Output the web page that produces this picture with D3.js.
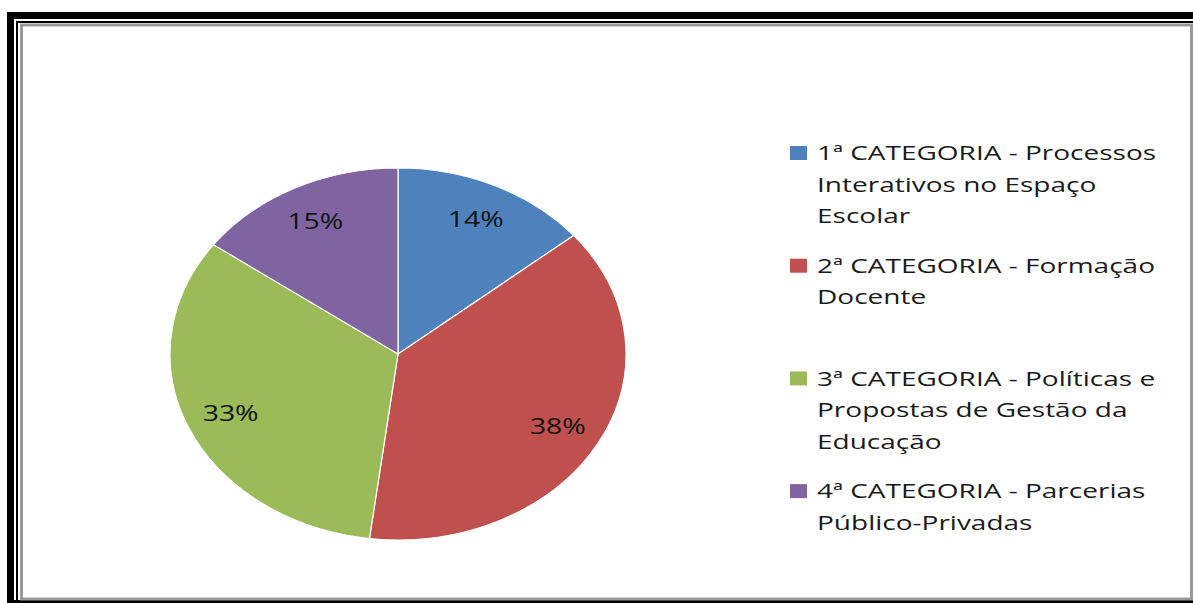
<!DOCTYPE html>
<html>
<head>
<meta charset="utf-8">
<script src="https://cdn.jsdelivr.net/npm/d3@7"></script>
<style>
  body { margin: 0; background: #fff; }
  svg { display: block; }
  text { font-family: "Open Sans", "DejaVu Sans", sans-serif; }
</style>
</head>
<body>
<div id="chart"></div>
<script>
// categories / values
var categories = ["1ª CATEGORIA - Processos Interativos no Espaço Escolar",
                  "2ª CATEGORIA - Formação Docente",
                  "3ª CATEGORIA - Políticas e Propostas de Gestão da Educação",
                  "4ª CATEGORIA - Parcerias Público-Privadas"];
var legendLines = [["1ª CATEGORIA - Processos", "Interativos no Espaço", "Escolar"],
                   ["2ª CATEGORIA - Formação", "Docente"],
                   ["3ª CATEGORIA - Políticas e", "Propostas de Gestão da", "Educação"],
                   ["4ª CATEGORIA - Parcerias", "Público-Privadas"]];
var values = [14, 38, 33, 15];
var colors = ["#4F81BD", "#C0504D", "#9BBB59", "#8064A2"];

var width = 1193, height = 603;

var svg = d3.select("#chart")
  .append("svg")
  .attr("width", width)
  .attr("height", height);

//==================
// frame (thick black outer, thin black inner, grey chart border)
svg.append("rect").attr("x", 7).attr("y", 12).attr("width", 1200).attr("height", 600).attr("fill", "#000");
svg.append("rect").attr("x", 14).attr("y", 19).attr("width", 1200).attr("height", 581).attr("fill", "#fff");
svg.append("rect").attr("x", 16).attr("y", 21).attr("width", 1200).attr("height", 579).attr("fill", "#000");
svg.append("rect").attr("x", 18).attr("y", 23).attr("width", 1200).attr("height", 577).attr("fill", "#fff");
svg.append("rect").attr("x", 21.5).attr("y", 25).attr("width", 1170).attr("height", 574)
  .attr("fill", "#fff").attr("stroke", "#999").attr("stroke-width", 3);

//==================
// pie (elliptical: the whole picture is stretched horizontally)
var cx = 398, cy = 354, ry = 186, rx = 228;

var pie = d3.pie().sort(null).value(function(d) { return d; });
var arc = d3.arc().innerRadius(0).outerRadius(ry);
var labelArc = d3.arc().innerRadius(ry * 0.8).outerRadius(ry * 0.8);
var arcs = pie(values);

var pieG = svg.append("g")
  .attr("transform", "translate(" + cx + "," + cy + ") scale(" + (rx / ry) + ",1)");

pieG.selectAll("path")
  .data(arcs)
  .enter()
  .append("path")
  .attr("d", arc)
  .attr("fill", function(d, i) { return colors[i]; })
  .attr("stroke", "#fff")
  .attr("stroke-width", 1.2)
  .attr("vector-effect", "non-scaling-stroke");

svg.selectAll("text.pct")
  .data(arcs)
  .enter()
  .append("text")
  .attr("class", "pct")
  .attr("transform", function(d) {
    var c = labelArc.centroid(d);
    return "translate(" + (cx + c[0] * rx / ry) + "," + (cy + c[1]) + ") scale(1.29,1)";
  })
  .attr("text-anchor", "middle")
  .attr("dy", "0.36em")
  .attr("font-size", 22)
  .attr("fill", "#111")
  .text(function(d) { return d.data + "%"; });

//==================
// legend
var legendY = d3.scaleLinear().domain([0, 1]).range([153, 265.7]);
var lineH = 31.6;

var legend = svg.selectAll("g.legend")
  .data(legendLines)
  .enter()
  .append("g")
  .attr("class", "legend")
  .attr("transform", function(d, i) { return "translate(790," + legendY(i) + ")"; });

legend.append("rect")
  .attr("x", 0).attr("y", -7)
  .attr("width", 17).attr("height", 14)
  .attr("fill", function(d, i) { return colors[i]; });

legend.append("text")
  .attr("transform", "translate(27,0) scale(1.4,1)")
  .attr("font-size", 20)
  .attr("fill", "#1a1a1a")
  .selectAll("tspan")
  .data(function(d) { return d; })
  .enter()
  .append("tspan")
  .attr("x", 0)
  .attr("y", function(d, j) { return j * lineH; })
  .attr("dy", "0.36em")
  .text(function(d) { return d; });
</script>
</body>
</html>
